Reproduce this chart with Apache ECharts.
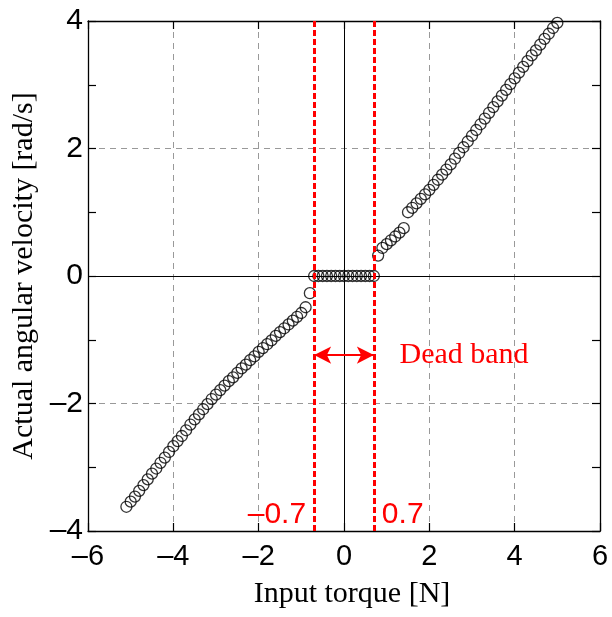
<!DOCTYPE html>
<html>
<head>
<meta charset="utf-8">
<script src="https://cdn.jsdelivr.net/npm/echarts@6/dist/echarts.min.js"></script>
<style>html,body{margin:0;padding:0;background:#fff}#c{width:612px;height:617px}</style>
</head>
<body>
<div id="c"></div>
<script>
// Negative branch: input torque (N) and measured angular velocity (rad/s)
var negTorque = [-5.1,-5.0,-4.9,-4.8,-4.7,-4.6,-4.5,-4.4,-4.3,-4.2,-4.1,-4.0,-3.9,-3.8,-3.7,-3.6,-3.5,-3.4,-3.3,-3.2,-3.1,-3.0,-2.9,-2.8,-2.7,-2.6,-2.5,-2.4,-2.3,-2.2,-2.1,-2.0,-1.9,-1.8,-1.7,-1.6,-1.5,-1.4,-1.3,-1.2,-1.1,-1.0,-0.9,-0.8];
var negVelocity = [-3.62,-3.54,-3.46,-3.37,-3.28,-3.19,-3.10,-3.02,-2.93,-2.85,-2.76,-2.67,-2.59,-2.51,-2.42,-2.33,-2.25,-2.17,-2.09,-2.01,-1.93,-1.86,-1.79,-1.72,-1.65,-1.59,-1.52,-1.45,-1.39,-1.32,-1.26,-1.19,-1.13,-1.07,-1.01,-0.94,-0.88,-0.82,-0.76,-0.70,-0.64,-0.58,-0.49,-0.27];
// Dead band
var deadTorque = [-0.7,-0.6,-0.5,-0.4,-0.3,-0.2,-0.1,0.0,0.1,0.2,0.3,0.4,0.5,0.6,0.7];
var deadVelocity = [0,0,0,0,0,0,0,0,0,0,0,0,0,0,0];
// Positive branch
var posTorque = [0.8,0.9,1.0,1.1,1.2,1.3,1.4,1.5,1.6,1.7,1.8,1.9,2.0,2.1,2.2,2.3,2.4,2.5,2.6,2.7,2.8,2.9,3.0,3.1,3.2,3.3,3.4,3.5,3.6,3.7,3.8,3.9,4.0,4.1,4.2,4.3,4.4,4.5,4.6,4.7,4.8,4.9,5.0];
var posVelocity = [0.32,0.44,0.50,0.56,0.62,0.68,0.75,1.00,1.07,1.14,1.21,1.28,1.35,1.43,1.51,1.59,1.67,1.75,1.84,1.93,2.02,2.11,2.20,2.29,2.38,2.47,2.56,2.65,2.74,2.83,2.92,3.01,3.10,3.19,3.28,3.37,3.46,3.54,3.63,3.72,3.80,3.89,3.97];

var deadBandEdges = [-0.7, 0.7];
var arrowLevel = -1.24;
var labelLevel = -3.74;
var textX = 1.3;
var xTicks = [-6,-4,-2,0,2,4,6];
var yTicks = [-4,-2,0,2,4];

function zip(a,b){ return a.map(function(v,i){ return [v,b[i]]; }); }
var points = zip(negTorque,negVelocity).concat(zip(deadTorque,deadVelocity)).concat(zip(posTorque,posVelocity));

function fmt(v){ return String(v).replace('-', '\u2013'); }
var sans = 'Liberation Sans';
var serif = 'Liberation Serif';

var chart = echarts.init(document.getElementById('c'), null, {renderer:'canvas'});
function axisCommon(){ return {
  axisLine:{show:true,onZero:false,lineStyle:{color:'#000',width:1.3}},
  axisTick:{show:true,inside:true,length:8,lineStyle:{color:'#000',width:1.2}}
};}
var minor = {show:true,splitNumber:2,length:8,lineStyle:{color:'#000',width:1.2}};
chart.setOption({
  animation:false,
  backgroundColor:'#fff',
  grid:{left:88,right:12,top:21,bottom:86,containLabel:false},
  xAxis:[
    Object.assign({type:'value',min:xTicks[0],max:xTicks[xTicks.length-1],interval:2,position:'bottom',
      name:'Input torque [N]',nameLocation:'middle',nameGap:48,
      nameTextStyle:{fontFamily:serif,fontSize:30,color:'#000',padding:[0,0,0,16]},
      axisLabel:{formatter:fmt,fontFamily:sans,fontSize:29,color:'#000',margin:11},
      splitLine:{show:true,lineStyle:{color:'#999',type:[6,5],width:1}}
    },axisCommon()),
    Object.assign({type:'value',min:-6,max:6,interval:2,position:'top',axisLabel:{show:false},splitLine:{show:false}},axisCommon())
  ],
  yAxis:[
    Object.assign({type:'value',min:yTicks[0],max:yTicks[yTicks.length-1],interval:2,position:'left',
      name:'Actual angular velocity [rad/s]',nameLocation:'middle',nameGap:43,nameRotate:90,
      nameTextStyle:{fontFamily:serif,fontSize:30,color:'#000'},
      axisLabel:{formatter:fmt,fontFamily:sans,fontSize:30,color:'#000',margin:5},
      minorTick:minor,
      splitLine:{show:true,lineStyle:{color:'#999',type:[6,5],width:1}}
    },axisCommon()),
    Object.assign({type:'value',min:-4,max:4,interval:2,position:'right',axisLabel:{show:false},splitLine:{show:false},
      minorTick:minor},axisCommon())
  ],
  series:[
    {
      type:'line',data:[],
      markLine:{silent:true,symbol:'none',animation:false,
        label:{show:false},
        lineStyle:{color:'#000',width:1,type:'solid'},
        data:[{xAxis:0},{yAxis:0}]}
    },
    {
      type:'scatter',data:points,symbol:'circle',symbolSize:11,z:3,
      itemStyle:{color:'rgba(0,0,0,0)',borderColor:'#000',borderWidth:1.3}
    },
    {
      type:'line',data:[],z:4,
      markLine:{silent:true,symbol:'none',animation:false,label:{show:false},
        lineStyle:{color:'#ff0000',width:3,type:[6,3]},
        data:deadBandEdges.map(function(v){return {xAxis:v};})}
    },
    {
      type:'line',data:[],z:4,
      markLine:{silent:true,animation:false,symbol:['arrow','arrow'],symbolSize:[13,17],label:{show:false},
        lineStyle:{color:'#ff0000',width:2,type:'solid'},
        data:[[{coord:[deadBandEdges[0],arrowLevel]},{coord:[deadBandEdges[1],arrowLevel]}]]},
      markPoint:{silent:true,symbol:'circle',symbolSize:0,animation:false,
        data:[
          {coord:[deadBandEdges[0],labelLevel],label:{show:true,formatter:fmt(deadBandEdges[0]),position:'left',distance:8,fontFamily:sans,fontSize:30,color:'#ff0000'}},
          {coord:[deadBandEdges[1],labelLevel],label:{show:true,formatter:String(deadBandEdges[1]),position:'right',distance:8,fontFamily:sans,fontSize:30,color:'#ff0000'}},
          {coord:[textX,arrowLevel],label:{show:true,formatter:'Dead band',position:'right',distance:0,fontFamily:serif,fontSize:30,color:'#ff0000'}}
        ]}
    }
  ]
});
</script>
</body>
</html>
